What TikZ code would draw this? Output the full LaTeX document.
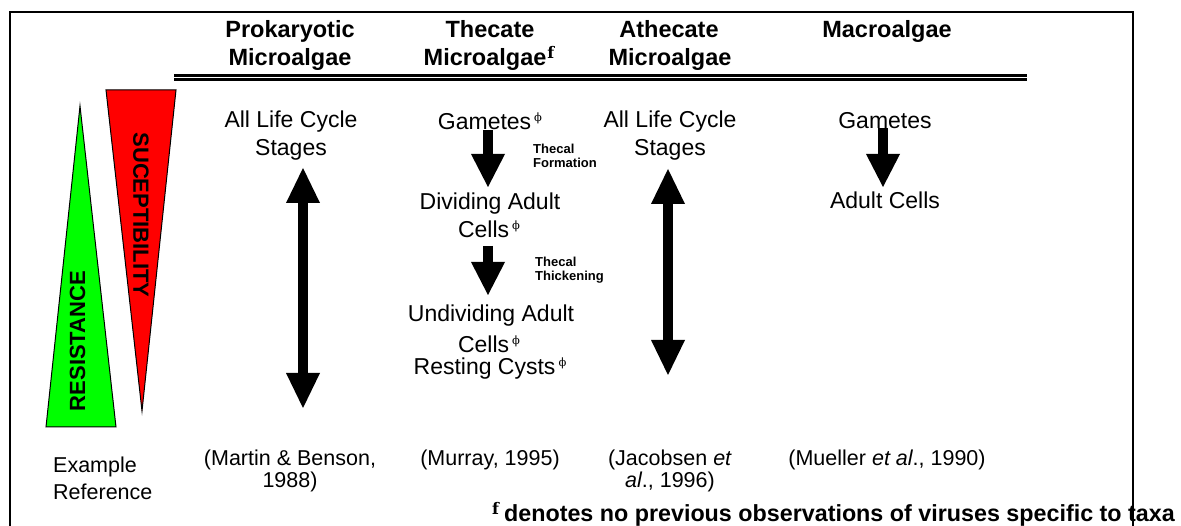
\documentclass[tikz,border=0pt]{standalone}
\usepackage{fontspec}
\setmainfont{Liberation Sans}
\newfontfamily\symfont{DejaVu Serif}
\newfontfamily\taxafont{DejaVu Serif}
\usetikzlibrary{arrows.meta}
\newcommand\phisup{\hspace{3pt}\raisebox{8pt}{\symfont\fontsize{11.5}{11.5}\selectfont ϕ}}
\newcommand\taxamark{\raisebox{7pt}{\taxafont\bfseries\fontsize{16}{16}\selectfont f}}
\begin{document}
\begin{tikzpicture}[x=1pt,y=-1pt,
  txt/.style={anchor=base,inner sep=0pt,font=\fontsize{23}{28}\selectfont},
  hdr/.style={anchor=base,inner sep=0pt,font=\bfseries\fontsize{23.5}{28}\selectfont},
  reftxt/.style={anchor=base,inner sep=0pt,font=\fontsize{21.5}{26}\selectfont},
  smalllbl/.style={anchor=base west,inner sep=0pt,font=\bfseries\fontsize{13}{13}\selectfont},
  bartxt/.style={inner sep=0pt,font=\bfseries\fontsize{22}{22}\selectfont},
  bigarrow/.style={line width=10pt,-{Triangle[length=33pt,width=34pt,line width=0pt]}},
  dblarrow/.style={line width=10pt,{Triangle[length=35pt,width=34pt,line width=0pt]}-{Triangle[length=35pt,width=34pt,line width=0pt]}},
  wedge/.style={draw=black,line width=1pt,line join=miter},
]
\useasboundingbox (0,0) rectangle (1181,526);
\fill[white] (0,0) rectangle (1181,526);

% frame
\draw[line width=1.5pt] (10,545) -- (10,12) -- (1133,12) -- (1133,545);

% headers
\node[hdr] (h1a) at (290,38) {Prokaryotic};
\node[hdr] (h1b) at (290,66) {Microalgae};
\node[hdr] (h2a) at (490,38) {Thecate};
\node[hdr] (h2b) at (489,66) {Microalgae\hspace{1pt}\taxamark};
\node[hdr] (h3a) at (669,38) {Athecate};
\node[hdr] (h3b) at (670,66) {Microalgae};
\node[hdr] (h4a) at (887,38) {Macroalgae};

% double rule
\coordinate (rl) at (174,75.7);
\coordinate (rr) at (1027,75.7);
\coordinate (sl) at (174,79.5);
\coordinate (sr) at (1027,79.5);
\draw[line width=3pt] (rl) -- (rr);
\draw[line width=2.3pt] (sl) -- (sr);

% wedges
\coordinate (gA) at (80,106);
\coordinate (gB) at (46,427);
\coordinate (gC) at (116,427);
\filldraw[wedge,fill={rgb,255:red,0;green,255;blue,0}] (gA) -- (gB) -- (gC) -- cycle;
\coordinate (rA) at (106,90);
\coordinate (rB) at (176,90);
\coordinate (rC) at (142,411);
\filldraw[wedge,fill={rgb,255:red,255;green,0;blue,0}] (rA) -- (rB) -- (rC) -- cycle;
\node[bartxt,rotate=90] (res) at (77.5,341) {RESISTANCE};
\node[bartxt,rotate=-90] (sus) at (141,215) {SUCEPTIBILITY};

% prokaryotic column
\node[txt] (p1) at (291,128) {All Life Cycle};
\node[txt] (p2) at (291,156) {Stages};
\coordinate (pt) at (303,168);
\coordinate (pb) at (303,408);
\draw[dblarrow] (pt) -- (pb);

% thecate column
\node[txt] (t1) at (490,130) {Gametes\phisup};
\node[txt] (t2) at (490,210) {Dividing Adult};
\node[txt] (t3) at (489,238) {Cells\phisup};
\node[txt] (t4) at (491,322) {Undividing Adult};
\node[txt] (t5) at (489,353) {Cells\phisup};
\node[txt] (t6) at (490,375) {Resting Cysts\phisup};
\coordinate (ta1) at (488,130);
\coordinate (ta2) at (488,187);
\draw[bigarrow] (ta1) -- (ta2);
\coordinate (tb1) at (488,246);
\coordinate (tb2) at (488,295);
\draw[bigarrow] (tb1) -- (tb2);
\node[smalllbl] (l1) at (533,154) {Thecal};
\node[smalllbl] (l2) at (533,168) {Formation};
\node[smalllbl] (l3) at (535,267) {Thecal};
\node[smalllbl] (l4) at (535,281) {Thickening};

% athecate column
\node[txt] (a1) at (670,128) {All Life Cycle};
\node[txt] (a2) at (670,156) {Stages};
\coordinate (at) at (668,169);
\coordinate (ab) at (668,375);
\draw[dblarrow] (at) -- (ab);

% macroalgae column
\node[txt] (m1) at (885,129) {Gametes};
\node[txt] (m2) at (885,209) {Adult Cells};
\coordinate (ma1) at (883,128);
\coordinate (ma2) at (883,187);
\draw[bigarrow] (ma1) -- (ma2);

% references
\node[reftxt,anchor=base west] (e1) at (53,472) {Example};
\node[reftxt,anchor=base west] (e2) at (53,499) {Reference};
\node[reftxt] (r1a) at (290,465) {(Martin \& Benson,};
\node[reftxt] (r1b) at (290,487) {1988)};
\node[reftxt] (r2) at (490,465) {(Murray, 1995)};
\node[reftxt] (r3a) at (670,465) {(Jacobsen \textit{et}};
\node[reftxt] (r3b) at (670,487) {\textit{al}., 1996)};
\node[reftxt] (r4) at (887,465) {(Mueller \textit{et al}., 1990)};

% footnote
\node[anchor=base west,inner sep=0pt,font=\bfseries\fontsize{23.3}{23}\selectfont] (fn) at (492,521)
  {\taxamark\hspace{5pt}denotes no previous observations of viruses specific to taxa};
\end{tikzpicture}
\end{document}
